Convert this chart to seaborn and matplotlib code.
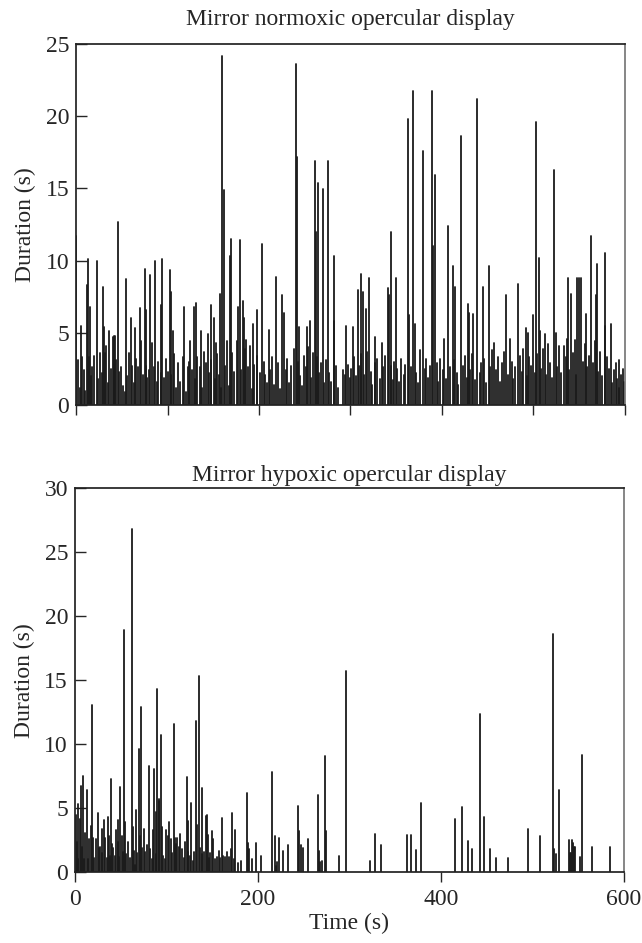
import pandas as pd
import matplotlib
matplotlib.use("Agg")
import matplotlib.pyplot as plt
import seaborn as sns

# ---------------------------------------------------------------------------
# Data: event time (s) and display duration (s)
# ---------------------------------------------------------------------------

# Normoxic: tall events
normoxic_peak_t = [0, 5, 11.6, 13.5, 15, 22.5, 29, 31, 36, 41, 43, 45.5, 54.5, 59.6, 65, 69.8,
                   75.6, 76.7, 81, 86.5, 92.5, 94.2, 102.9, 103.6, 106, 117.8, 125, 128.5, 131,
                   137, 144, 147.3, 150.6, 153, 157.5, 159.6, 161.5, 168, 169.5, 177.5, 178.9,
                   182.5, 184, 186, 193.4, 197.6, 203.6, 210.9, 218.9, 225.5, 227, 240, 241.8,
                   244, 252, 255.3, 261.5, 262.5, 264.4, 269.5, 275.6, 281.5, 282.5, 295.3,
                   302.5, 308.4, 312, 313.5, 317, 320.4, 326.5, 334.5, 340.7, 342.5, 344.7,
                   349.4, 362.9, 364.4, 368.7, 370, 378.9, 389, 390.5, 392.4, 402.5, 406.9,
                   411.6, 414, 420.7, 428.7, 430, 434, 438.2, 444.4, 450.9, 457, 469.8, 474.5,
                   482.9, 491.6, 494, 500, 503.2, 506, 507.5, 512.5, 522.9, 524.5, 533, 538.2,
                   541, 548, 549.8, 552, 557, 562.9, 568, 569.8, 577.7, 578.2, 584.5, 589.8,
                   594, 597.7]
normoxic_peak_v = [11.7, 5.5, 8.3, 10.1, 6.8, 10.0, 8.2, 5.4, 5.1, 4.8, 4.8, 12.65, 8.7, 6.0, 5.3,
                   6.7, 9.45, 6.6, 9.0, 9.95, 6.9, 10.1, 9.35, 7.8, 5.1, 6.8, 4.4, 6.8, 7.1, 5.1,
                   4.9, 6.95, 6.0, 4.3, 7.7, 24.2, 14.9, 10.3, 11.5, 6.8, 11.4, 7.2, 6.0, 4.5,
                   5.6, 6.6, 11.15, 5.2, 8.9, 7.6, 6.4, 23.6, 17.15, 5.4, 5.4, 5.85, 16.9, 12.0,
                   15.35, 14.95, 16.9, 10.3, 5.8, 5.5, 5.4, 8.0, 9.1, 7.8, 6.65, 8.8, 4.7, 4.3,
                   8.1, 7.6, 11.95, 8.8, 19.8, 6.2, 21.75, 5.6, 17.6, 21.75, 11.0, 15.9, 4.55,
                   12.4, 9.65, 8.2, 18.6, 7.0, 6.35, 6.3, 21.2, 8.2, 9.6, 4.3, 7.6, 4.6, 8.4,
                   5.3, 5.0, 6.2, 19.6, 10.2, 5.1, 4.9, 16.3, 5.0, 4.1, 8.8, 7.7, 8.8, 8.8, 8.8,
                   6.3, 11.7, 7.6, 9.8, 5.5, 10.5, 5.6, 2.9, 3.1, 2.5]

# Normoxic: short background events
normoxic_low_t = [2, 4, 7, 9, 10, 14, 16, 18, 20, 24, 26, 28, 31.5, 33, 35, 38, 40, 42, 44, 47, 49,
                  51, 53, 56, 58, 61, 63, 66, 68, 71, 73, 77, 78, 80, 83, 85, 88, 90, 93, 96, 98,
                  101, 104, 107, 109, 112, 114, 117, 120, 122, 124, 127, 130, 132, 135, 138, 140,
                  142, 145, 148, 152, 154, 156, 158, 163, 165, 167, 171, 173, 176, 180, 185, 188,
                  190, 192, 195, 198, 201, 205, 207, 209, 212, 214, 216, 221, 223, 229, 231, 233,
                  235, 238, 243, 245, 247, 249, 251, 254, 257, 259, 263, 266, 268, 271, 273, 277,
                  279, 284, 286, 292, 294, 297, 299, 301, 304, 306, 309, 311, 315, 318, 322, 324,
                  327, 329, 332, 336, 338, 344, 346, 348, 351, 353, 355, 358, 360, 366, 372, 374,
                  376, 381, 383, 385, 387, 394, 396, 398, 401, 404, 409, 413, 416, 418, 423, 425,
                  427, 431, 433, 436, 441, 443, 446, 448, 453, 455, 459, 461, 463, 466, 468, 472,
                  476, 478, 480, 485, 487, 489, 493, 495, 497, 502, 504, 508, 510, 514, 516, 518,
                  520, 526, 528, 530, 535, 537, 539, 543, 545, 547, 554, 556, 559, 561, 565, 567,
                  571, 573, 575, 580, 582, 586, 588, 591, 593, 596, 599]
normoxic_low_v = [3.1, 1.2, 3.3, 2.4, 1.0, 3.3, 2.0, 2.6, 3.4, 1.8, 3.6, 2.2, 3.6, 4.1, 1.5, 2.5,
                  4.7, 2.8, 3.1, 2.3, 2.6, 1.3, 0.9, 2.0, 3.6, 2.7, 1.5, 3.2, 2.6, 4.4, 2.1, 2.7,
                  1.9, 2.4, 4.3, 2.6, 1.6, 3.0, 2.2, 1.9, 3.2, 2.3, 2.1, 3.5, 1.2, 2.9, 1.6, 3.3,
                  0.9, 2.6, 3.0, 2.4, 1.8, 3.3, 2.6, 1.2, 3.7, 2.9, 2.2, 3.1, 1.8, 3.5, 2.1, 1.2,
                  2.7, 4.4, 1.3, 3.6, 2.3, 4.4, 2.4, 3.9, 2.6, 4.1, 1.1, 2.8, 3.4, 2.2, 3.0, 2.1,
                  1.5, 2.4, 3.3, 1.4, 2.9, 1.1, 2.4, 3.2, 1.5, 2.7, 3.9, 3.0, 2.0, 1.3, 3.4, 2.6,
                  4.0, 1.9, 3.6, 3.3, 2.2, 2.9, 1.5, 3.1, 2.2, 1.6, 2.7, 1.2, 2.4, 2.1, 2.8, 1.9,
                  2.5, 3.3, 2.0, 2.7, 3.5, 2.1, 3.7, 2.3, 1.4, 2.9, 3.2, 1.8, 2.6, 3.4, 2.7, 1.7,
                  3.0, 2.5, 1.6, 3.2, 2.1, 2.8, 2.6, 2.2, 1.5, 3.8, 2.5, 3.2, 1.9, 2.7, 2.9, 1.6,
                  3.2, 2.4, 1.8, 2.6, 3.1, 2.2, 1.4, 2.7, 3.4, 1.9, 2.4, 3.5, 1.7, 2.2, 2.9, 3.2,
                  1.5, 2.6, 3.8, 2.4, 3.3, 1.6, 2.9, 3.7, 2.1, 3.0, 1.8, 2.6, 3.4, 2.3, 3.9, 2.0,
                  3.3, 2.7, 2.2, 3.5, 2.5, 3.9, 2.1, 4.2, 2.9, 1.9, 2.6, 4.1, 2.2, 3.3, 4.6, 2.4,
                  3.6, 4.5, 2.1, 3.0, 4.2, 2.6, 3.4, 2.9, 4.4, 2.3, 3.7, 2.0, 3.3, 2.5, 1.5, 2.4,
                  1.8, 1.2, 2.1, 1.6]

# Hypoxic: all events
hypoxic_t = [1.1, 2, 3, 3.6, 5, 6.6, 8, 9.1, 10, 11, 12.8, 14, 15, 17, 18.2, 20, 21, 23, 24.8, 26,
             27, 29, 30, 31.7, 33, 35, 36, 37, 38, 39, 40, 42, 44, 45, 46.6, 47, 48, 49.6, 51,
             52, 53.2, 55, 56, 58, 60, 61.9, 63, 64, 66, 67, 68, 69.6, 71, 72.5, 73, 75, 77,
             79, 80.9, 82, 84, 85, 86.7, 88, 89, 90, 91.5, 92, 93.6, 95, 96, 98, 100, 102,
             103, 105, 106, 107.8, 109, 110, 112, 114, 115, 117, 119, 120, 122, 123, 124,
             126, 127, 129, 130, 132.2, 133, 135.9, 137, 138.3, 139, 141, 143, 144.7, 145,
             147, 148, 150, 151, 153, 155, 157, 159, 160.3, 162, 164, 166, 168, 170, 171.2,
             174, 175, 178, 181.2, 188, 189.5, 190.5, 194, 197.8, 203, 215.3, 218.5, 219.5,
             221, 223.5, 227.5, 233, 243.3, 244.5, 246.5, 249.5, 254.6, 265.2, 266.5, 268,
             269.5, 273.6, 274.2, 289, 295.8, 321.9, 328.2, 334.4, 363.2, 366.9, 372.4,
             378.1, 415, 423, 430, 433.6, 442.3, 447.5, 453.6, 460, 473, 494.7, 508.5,
             522, 523.5, 526, 528.6, 539.5, 541, 542.2, 543, 544.3, 545.6, 547, 551.5,
             554.1, 564.7, 584.3]
hypoxic_v = [4.5, 2.4, 1.0, 5.3, 4.2, 6.75, 2.0, 7.55, 1.0, 3.1, 6.4, 1.0, 2.6, 3.6, 13.1, 2.7,
             1.1, 2.6, 4.6, 1.9, 2.0, 3.4, 1.5, 4.1, 2.7, 1.1, 4.3, 2.8, 1.3, 7.25, 2.2, 1.9,
             1.3, 3.3, 4.1, 2.4, 1.2, 6.7, 2.8, 1.6, 18.9, 3.9, 1.4, 2.4, 1.1, 26.8, 3.5, 1.7,
             0.6, 4.9, 1.5, 9.6, 2.8, 12.95, 1.9, 3.4, 1.6, 2.1, 8.3, 1.8, 1.0, 3.3, 8.1, 4.7,
             1.4, 14.3, 5.6, 5.7, 10.7, 3.5, 1.3, 1.0, 3.3, 2.8, 3.9, 2.6, 1.5, 11.55, 2.7,
             2.2, 2.7, 2.0, 3.0, 1.8, 1.1, 2.4, 7.45, 1.6, 4.0, 1.3, 5.4, 0.9, 1.6, 11.85, 3.7,
             15.35, 1.9, 6.6, 1.4, 1.6, 4.4, 4.5, 2.9, 1.1, 1.5, 3.2, 2.6, 1.0, 1.2, 1.7, 1.1,
             4.25, 1.3, 1.2, 1.6, 1.2, 1.8, 4.6, 1.0, 3.3, 0.7, 0.9, 6.2, 2.3, 1.8, 1.0, 2.3,
             1.3, 7.8, 2.8, 0.5, 0.8, 2.7, 1.7, 2.1, 5.2, 3.2, 2.15, 1.9, 2.6, 6.0, 1.7, 0.8,
             0.9, 9.1, 3.2, 1.25, 15.7, 0.9, 3.0, 2.1, 2.95, 2.95, 1.75, 5.4, 4.15, 5.1, 2.45,
             1.8, 12.4, 4.35, 1.8, 1.1, 1.1, 3.4, 2.85, 18.65, 1.8, 1.4, 6.4, 2.55, 1.5, 1.5,
             2.5, 2.3, 2.0, 2.0, 1.2, 9.15, 1.95, 1.95]

panel_titles = ["Mirror normoxic opercular display", "Mirror hypoxic opercular display"]


def spikes(times, durations):
    # each event becomes a vertical segment from 0 up to its duration
    rows = []
    for i, (t, d) in enumerate(zip(times, durations)):
        rows.append({"event": i, "time": t, "duration": 0.0})
        rows.append({"event": i, "time": t, "duration": d})
    return pd.DataFrame(rows)


normoxic = spikes(normoxic_low_t + normoxic_peak_t, normoxic_low_v + normoxic_peak_v)
hypoxic = spikes(hypoxic_t, hypoxic_v)

# ---------------------------------------------------------------------------
# Plot
# ---------------------------------------------------------------------------
sns.set_theme(style="ticks")
plt.rcParams["font.family"] = ["Liberation Serif", "DejaVu Serif"]
fs = 17

fig = plt.figure(figsize=(6.42, 9.43), dpi=100)
ax_top = fig.add_axes([0.1184, 0.5705, 0.8551, 0.3828])
ax_bot = fig.add_axes([0.1168, 0.0750, 0.8551, 0.4072])

for ax, df, ymax, title, tpad in [(ax_top, normoxic, 25, panel_titles[0], 14),
                                  (ax_bot, hypoxic, 30, panel_titles[1], 5)]:
    sns.lineplot(data=df, x="time", y="duration", units="event", estimator=None,
                 sort=False, color="#1a1a1a", linewidth=1.3, ax=ax)
    ax.set_xlim(0, 600)
    ax.set_ylim(0, ymax)
    ax.set_yticks(range(0, ymax + 1, 5))
    ax.tick_params(axis="y", direction="in", length=8, width=1, labelsize=fs, pad=5)
    ax.tick_params(axis="x", direction="out", length=7, width=1, labelsize=fs, pad=5)
    ax.set_ylabel("Duration (s)", fontsize=fs, labelpad=7)
    ax.set_title(title, fontsize=fs, pad=tpad)
    for side in ["left", "bottom", "top"]:
        ax.spines[side].set_color("#222222")
    ax.spines["right"].set_color("#777777")

ax_top.set_xticks(range(0, 601, 100))
ax_top.set_xticklabels([])
ax_top.set_xlabel("")

ax_bot.set_xticks([0, 200, 400, 600])
ax_bot.set_xlabel("Time (s)", fontsize=fs, labelpad=2)

fig.savefig("out.png", dpi=100)
